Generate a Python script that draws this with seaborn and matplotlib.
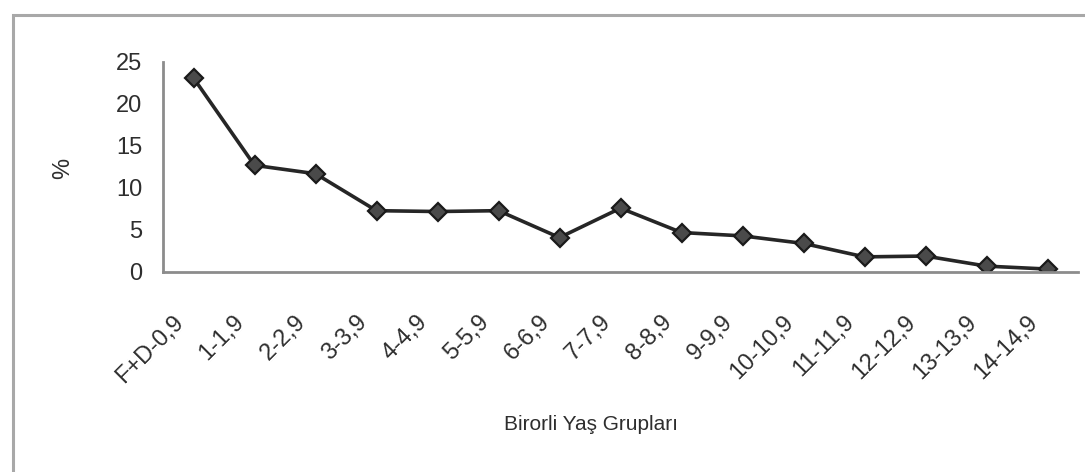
import numpy as np
import pandas as pd
import matplotlib
matplotlib.use("Agg")
import matplotlib.pyplot as plt
import matplotlib.transforms as mtransforms
from matplotlib.patches import Rectangle
import seaborn as sns

# Age groups and their share (%)
groups = ["F+D-0,9", "1-1,9", "2-2,9", "3-3,9", "4-4,9", "5-5,9", "6-6,9",
          "7-7,9", "8-8,9", "9-9,9", "10-10,9", "11-11,9", "12-12,9",
          "13-13,9", "14-14,9"]
percent = [23.1, 12.7, 11.7, 7.3, 7.2, 7.3, 4.1, 7.6, 4.7, 4.3, 3.4,
           1.8, 1.9, 0.7, 0.35]
y_ticks = [0, 5, 10, 15, 20, 25]
x_title = "Birorli Yaş Grupları"
y_title = "%"

sns.set_theme(style="white")
plt.rcParams["font.family"] = ["Liberation Sans", "DejaVu Sans"]

W, H = 1085, 472
fig = plt.figure(figsize=(W / 100, H / 100), dpi=100)
fig.patch.set_facecolor("white")

# outer chart frame (left and top edges visible)
fig.patches.append(Rectangle((13 / W, -0.2), 1.2, 1.2 - 15 / H,
                             transform=fig.transFigure, fill=False,
                             edgecolor="#a8a8a8", linewidth=2.2, clip_on=False))

ax = fig.add_axes([163 / W, 1 - 272 / H, (1078 - 163) / W, (272 - 62) / H])

df = pd.DataFrame({"grup": groups, "pct": percent})
sns.lineplot(data=df, x="grup", y="pct", sort=False, ax=ax,
             color="#262626", linewidth=2.6, marker="D", markersize=9,
             markerfacecolor="#4a4a4a", markeredgecolor="#1a1a1a",
             markeredgewidth=1.6)

n = len(groups)
ax.set_xlim(-0.5, n - 0.5)
ax.set_ylim(0, 25)
ax.set_yticks(y_ticks)
ax.set_xticks(range(n))
ax.set_xticklabels(groups)
ax.set_xticks(np.arange(-0.5, n, 1.0), minor=True)

for side in ["top", "right"]:
    ax.spines[side].set_visible(False)
for side in ["left", "bottom"]:
    ax.spines[side].set_color("#8c8c8c")
    ax.spines[side].set_linewidth(2.0)

text_color = "#2e2e2e"
ax.tick_params(axis="x", which="major", length=0, pad=0,
               labelsize=17, labelcolor=text_color)
ax.tick_params(axis="x", which="minor", length=5, width=1.3,
               color="#8c8c8c", direction="out")
ax.tick_params(axis="y", length=5, width=1.3, color="#8c8c8c",
               direction="out", pad=10, labelsize=17, labelcolor=text_color)

shift = mtransforms.ScaledTranslation(-21 / 100, -39 / 100, fig.dpi_scale_trans)
for lab in ax.get_xticklabels():
    lab.set_rotation(45)
    lab.set_ha("right")
    lab.set_va("top")
    lab.set_rotation_mode("anchor")
    lab.set_transform(lab.get_transform() + shift)

ax.set_xlabel("")
ax.set_ylabel("")
fig.text(63 / W, 1 - 168 / H, y_title, rotation=90, ha="center", va="center",
         fontsize=17, color=text_color)
fig.text(591 / W, 1 - 424 / H, x_title, ha="center", va="center",
         fontsize=15, color=text_color)

fig.savefig("out.png", dpi=100, facecolor="white")
